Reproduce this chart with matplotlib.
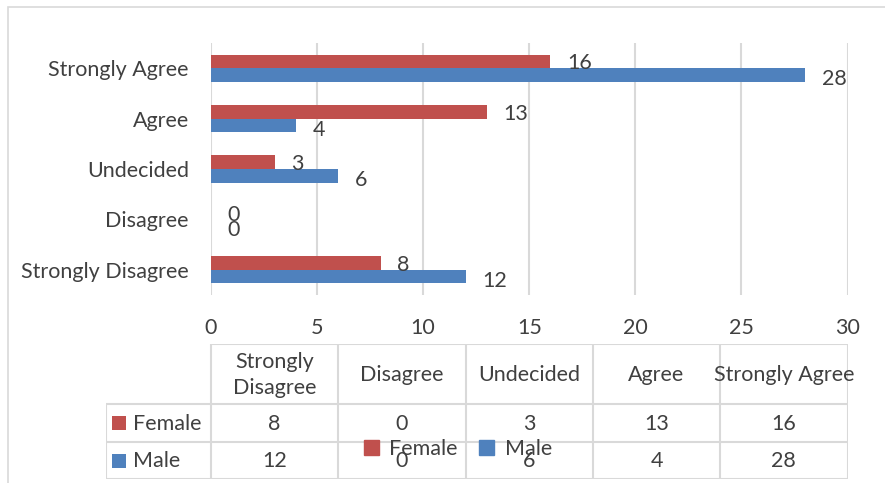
import matplotlib.pyplot as plt
from matplotlib.patches import Rectangle, Patch
import numpy as np

# ── Data ───────────────────────────────────────────
categories = ['Strongly Disagree', 'Disagree', 'Undecided', 'Agree', 'Strongly Agree']
header_labels = ['Strongly\nDisagree', 'Disagree', 'Undecided', 'Agree', 'Strongly Agree']
female = [8, 0, 3, 13, 16]
male = [12, 0, 6, 4, 28]
series_names = ['Female', 'Male']
xticks = [0, 5, 10, 15, 20, 25, 30]

# ── Style ──────────────────────────────────────────
RED = '#C0504D'
BLUE = '#4F81BD'
GRID = '#D9D9D9'
TXT = '#404040'
FS = 15.5
plt.rcParams['font.family'] = ['Lato', 'DejaVu Sans']

W, H = 885, 483
fig = plt.figure(figsize=(W / 100, H / 100), dpi=100)

def fx(px):
    return px / W

def fy(py):
    return 1 - py / H

# chart area border (light gray)
fig.patches.append(Rectangle((fx(8), -0.1), 1.2, fy(7) + 0.1, transform=fig.transFigure,
                             fill=False, edgecolor=GRID, lw=1.2))

# ── Bar plot ───────────────────────────────────────
x0, x1 = 211, 847.5
ax = fig.add_axes([fx(x0), fy(295), fx(x1) - fx(x0), fy(43) - fy(295)])
y = np.arange(len(categories))
h = 0.27
ax.barh(y + h / 2, female, height=h, color=RED, zorder=3)
ax.barh(y - h / 2, male, height=h, color=BLUE, zorder=3)

for yi, v in zip(y, female):
    ax.annotate(str(v), (v, yi + h / 2), xytext=(12, -1.5), textcoords='offset points',
                ha='left', va='center', fontsize=FS, color=TXT)
for yi, v in zip(y, male):
    ax.annotate(str(v), (v, yi - h / 2), xytext=(12, -3), textcoords='offset points',
                ha='left', va='center', fontsize=FS, color=TXT)

ax.set_xlim(0, 30)
ax.set_ylim(-0.5, len(categories) - 0.5)
ax.set_xticks(xticks)
ax.set_yticks(y)
ax.set_yticklabels(categories)
ax.tick_params(axis='both', length=0, labelsize=FS, colors=TXT)
ax.tick_params(axis='y', pad=16)
ax.tick_params(axis='x', pad=16.5)
ax.grid(axis='x', color=GRID, lw=1.5, zorder=0)
for s in ax.spines.values():
    s.set_visible(False)

# ── Data table ─────────────────────────────────────
tl = 105.7
tax = fig.add_axes([fx(tl), fy(479), fx(x1) - fx(tl), fy(344) - fy(479)])
unit = (x1 - x0) / 30
tax.set_xlim(-(x0 - tl) / unit, 30)
tax.set_ylim(479, 344)
tax.axis('off')
col_w = 6
rows_y = [344, 404, 442, 479]
lkw = dict(color=GRID, lw=1.5, solid_capstyle='butt')
tax.plot([0, 30], [rows_y[0]] * 2, **lkw)
for ry in rows_y[1:]:
    tax.plot([-(x0 - tl) / unit, 30], [ry] * 2, **lkw)
for i in range(len(categories) + 1):
    tax.plot([i * col_w] * 2, [rows_y[0], rows_y[-1]], **lkw)
tax.plot([-(x0 - tl) / unit] * 2, [rows_y[1], rows_y[-1]], **lkw)

for i, lab in enumerate(header_labels):
    tax.text(i * col_w + col_w / 2, (rows_y[0] + rows_y[1]) / 2 + 1, lab, ha='center',
             va='center', fontsize=FS, color=TXT, linespacing=1.42)

for r, (name, vals, col) in enumerate([(series_names[0], female, RED), (series_names[1], male, BLUE)]):
    cy = (rows_y[r + 1] + rows_y[r + 2]) / 2 + 1
    for i, v in enumerate(vals):
        tax.text(i * col_w + col_w / 2, cy, str(v), ha='center', va='center',
                 fontsize=FS, color=TXT)
    tax.add_patch(Rectangle((-(x0 - tl) / unit + 6.5 / unit, cy - 7.5), 14 / unit, 14,
                            color=col, lw=0))
    tax.text(-(x0 - tl) / unit + 27 / unit, cy, name, ha='left', va='center',
             fontsize=FS, color=TXT)

# ── Legend (sits over the table, like the original) ─
handles = [Patch(color=RED, label=series_names[0]), Patch(color=BLUE, label=series_names[1])]
fig.legend(handles=handles, loc='center', bbox_to_anchor=(fx(458), fy(449)), ncol=2,
           frameon=False, fontsize=FS, labelcolor=TXT, handlelength=0.7, handleheight=0.7,
           handletextpad=0.5, columnspacing=1.0)

fig.savefig('out.png', dpi=100)
